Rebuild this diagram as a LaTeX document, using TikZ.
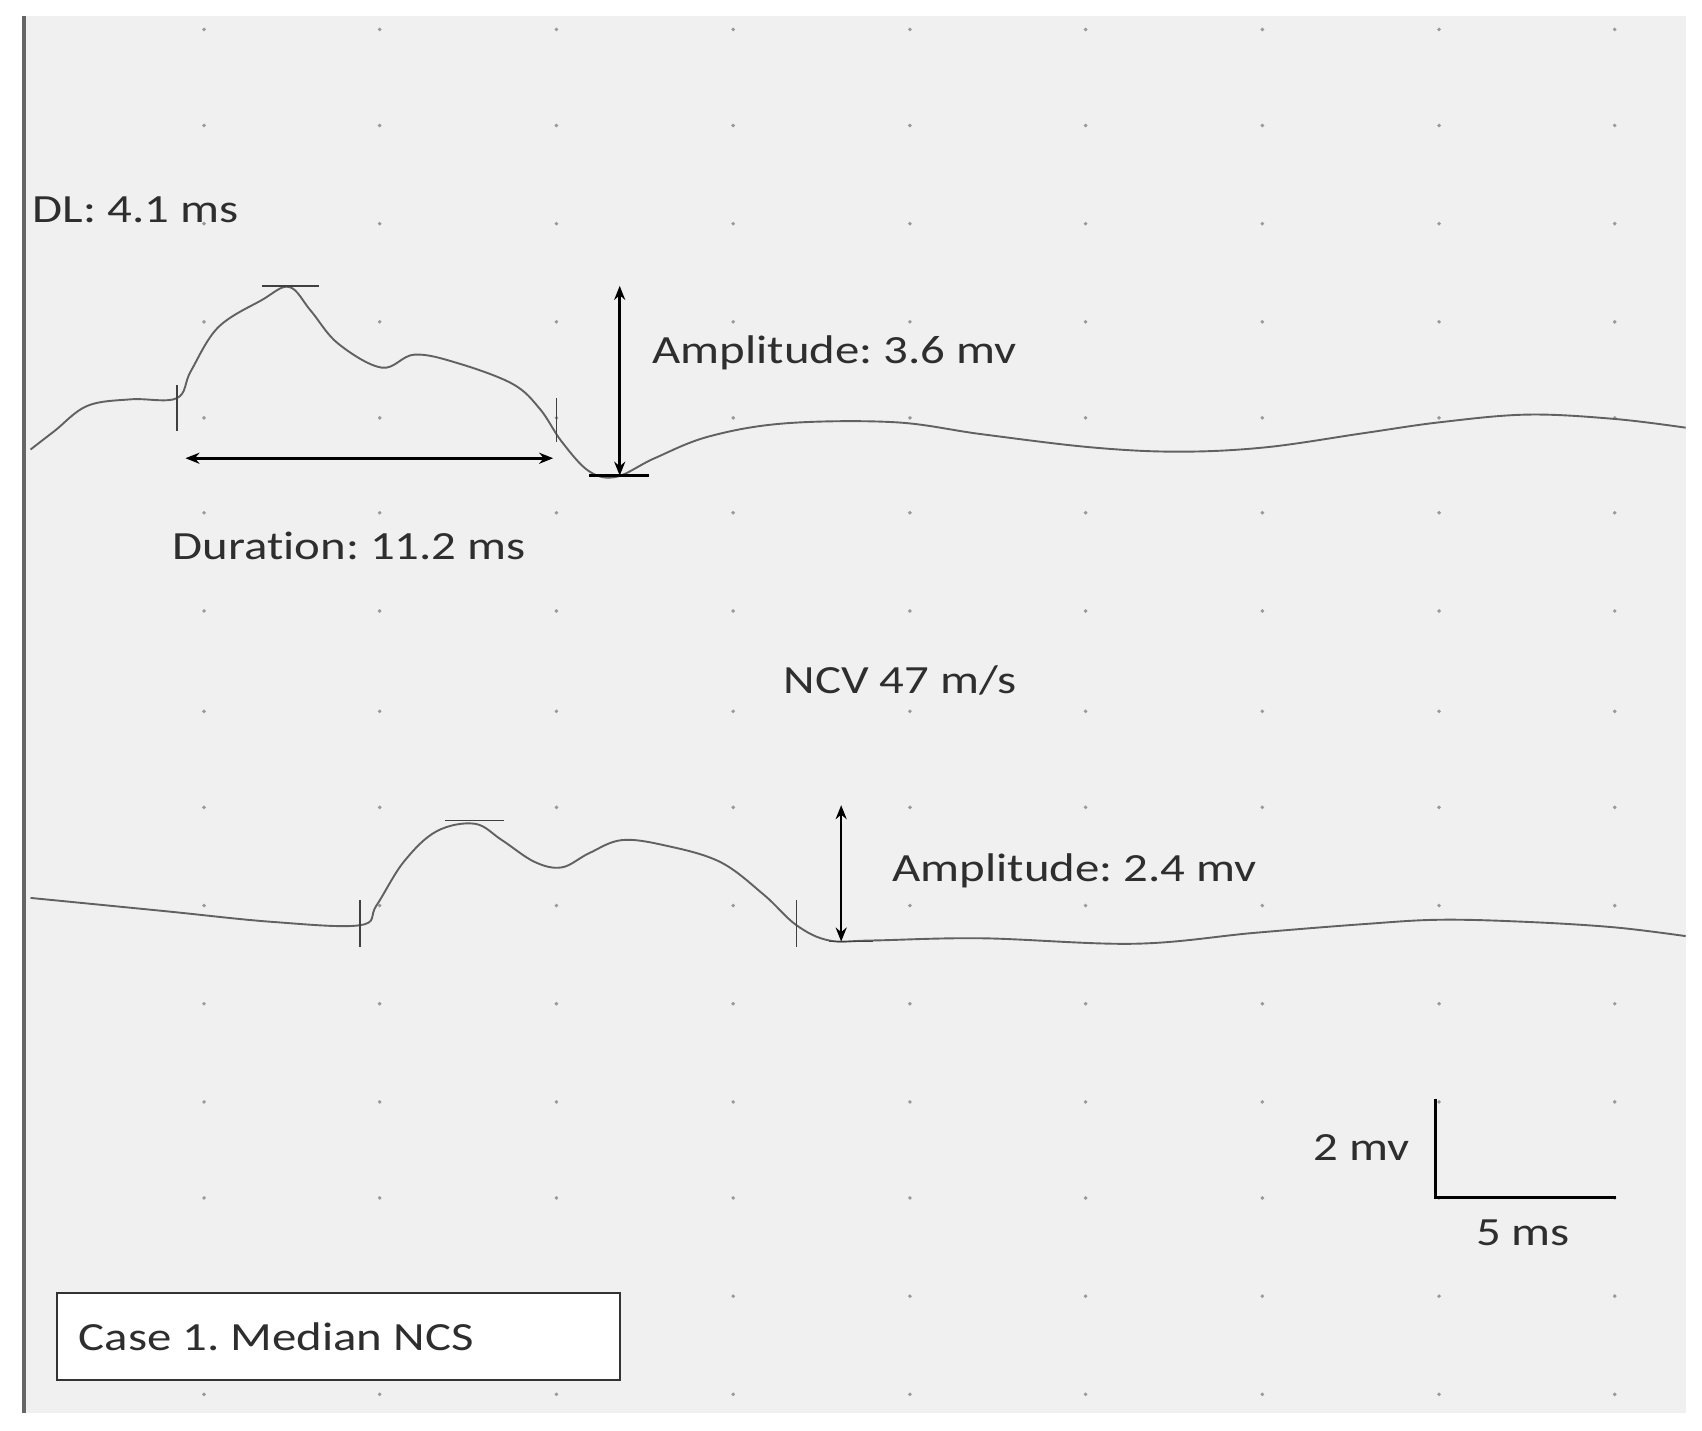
\documentclass[tikz,border=0pt]{standalone}
\usepackage{fontspec}
\usetikzlibrary{arrows.meta}
\setmainfont{Carlito}[RawFeature=-liga]
\frenchspacing
\begin{document}
\begin{tikzpicture}[x=1.091pt,y=-1.091pt,
  trace/.style={draw=black!62,line width=1.9pt},
  tickmk/.style={draw=black!75,line width=1.8pt},
  arr/.style={draw=black,line width=2.6pt,{Stealth[length=14pt,width=11pt]}-{Stealth[length=14pt,width=11pt]}},
  lbl/.style={text=black!82,font=\fontsize{40}{44}\selectfont,inner sep=0pt,xscale=1.22}]
\useasboundingbox (0,0) rectangle (1560,1311);
\fill[white] (0,0) rectangle (1560,1311);
\fill[black!6] (20,15) rectangle (1545,1295);
\draw[black!60,line width=4pt] (22,15) -- (22,1295);
\foreach \x in {187,348,510,672,834,995,1157,1319,1480}
 \foreach \y in {27,115,205,295,383,470,560,652,740,830,920,1010,1098,1188,1278}
  \fill[black!40] (\x,\y) circle (1.8);
% trace 1
\draw[trace] plot[smooth,tension=0.6] coordinates {(28,412) (50,395) (80,372) (120,366) (162,365) (175,340) (200,300) (240,275) (265,263) (285,285) (310,315) (350,337) (380,325) (420,333) (470,352) (495,375) (515,405) (540,432) (565,437) (600,420) (650,400) (720,388) (820,387) (900,398) (1000,410) (1080,414) (1160,410) (1250,397) (1320,387) (1400,380) (1480,384) (1545,392)};
\coordinate (t1a) at (162,353); \coordinate (t1b) at (162,395);
\draw[tickmk] (t1a) -- (t1b);
\coordinate (t2a) at (510,365); \coordinate (t2b) at (510,405);
\draw[tickmk] (t2a) -- (t2b);
\coordinate (p1a) at (240,262); \coordinate (p1b) at (292,262);
\draw[tickmk] (p1a) -- (p1b);
\coordinate (b1a) at (540,436); \coordinate (b1b) at (595,436);
\draw[black,line width=2.6pt] (b1a) -- (b1b);
\coordinate (d1) at (170,420); \coordinate (d2) at (507,420);
\draw[arr] (d1) -- (d2);
\coordinate (a1) at (568,262); \coordinate (a2) at (568,436);
\draw[arr] (a1) -- (a2);
\node[lbl,anchor=west] (dl) at (30,192) {DL: 4.1 ms};
\node[lbl,anchor=west] (amp1) at (598,323) {Amplitude: 3.6 mv};
\node[lbl,anchor=west] (dur) at (158,500) {Duration: 11.2 ms};
\node[lbl] (ncv) at (825,624) {NCV 47 m/s};
% trace 2
\draw[trace] plot[smooth,tension=0.6] coordinates {(28,823) (150,835) (250,845) (330,848) (345,830) (370,790) (400,762) (435,755) (460,770) (490,790) (515,795) (540,782) (570,770) (610,775) (660,790) (700,820) (730,848) (760,862) (800,862) (900,860) (1040,865) (1150,855) (1250,847) (1320,843) (1400,845) (1480,850) (1545,858)};
\coordinate (t3a) at (330,825); \coordinate (t3b) at (330,868);
\draw[tickmk] (t3a) -- (t3b);
\coordinate (t4a) at (730,825); \coordinate (t4b) at (730,868);
\draw[tickmk] (t4a) -- (t4b);
\coordinate (p2a) at (408,752); \coordinate (p2b) at (462,752);
\draw[tickmk] (p2a) -- (p2b);
\coordinate (b2a) at (760,863); \coordinate (b2b) at (800,863);
\draw[tickmk] (b2a) -- (b2b);
\coordinate (a3) at (771,738); \coordinate (a4) at (771,863);
\draw[arr] (a3) -- (a4);
\node[lbl,anchor=west] (amp2) at (818,798) {Amplitude: 2.4 mv};
% scale bar
\coordinate (s1) at (1316,1007); \coordinate (s2) at (1316,1098); \coordinate (s3) at (1481,1098);
\draw[black,line width=3pt] (s1) -- (s2) -- (s3);
\node[lbl,anchor=east] (mv) at (1292,1052) {2 mv};
\node[lbl] (ms) at (1396,1130) {5 ms};
\draw[draw=black!80,fill=white,line width=1.8pt] (52,1185) rectangle (568,1265);
\node[lbl,anchor=west] (case) at (72,1225) {Case 1. Median NCS};
\end{tikzpicture}
\end{document}
